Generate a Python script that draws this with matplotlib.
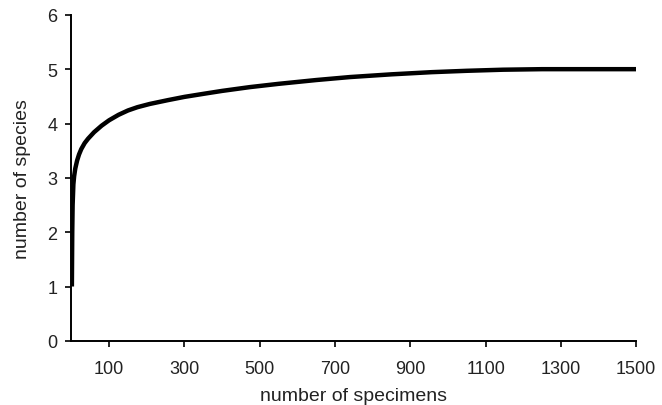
import matplotlib
matplotlib.use("Agg")
from matplotlib import pyplot as plt

plt.rcParams['font.family'] = ['Liberation Sans', 'DejaVu Sans']

# rarefaction curve
specimens = [1, 2, 3, 5, 7, 10, 15, 20, 26, 35, 44, 60, 80, 100, 125, 150,
             175, 208, 256, 300, 354, 400, 474, 550, 650, 740, 850, 957,
             1050, 1146, 1250, 1500]
species = [1.0, 2.0, 2.5, 2.88, 3.03, 3.17, 3.32, 3.43, 3.53, 3.64, 3.72,
           3.84, 3.96, 4.06, 4.16, 4.24, 4.3, 4.36, 4.43, 4.49, 4.55, 4.6,
           4.67, 4.73, 4.8, 4.855, 4.905, 4.945, 4.97, 4.99, 5.0, 5.0]
x_ticks = [100, 300, 500, 700, 900, 1100, 1300, 1500]
y_ticks = [0, 1, 2, 3, 4, 5, 6]

fig = plt.figure(figsize=(6.62, 4.06), dpi=100)
ax = fig.add_axes([0.108, 0.158, 0.853, 0.803])

ax.plot(specimens, species, color='black', linewidth=3.2,
        solid_capstyle='butt', solid_joinstyle='round')

ax.set_xlim(0, 1500)
ax.set_ylim(0, 6)
ax.set_xticks(x_ticks)
ax.set_yticks(y_ticks)
ax.tick_params(axis='both', direction='out', length=4, width=1.2,
               labelsize=13, colors='black', labelcolor='#222222')
ax.tick_params(axis='x', pad=10)
ax.tick_params(axis='y', pad=6)
for side in ['top', 'right']:
    ax.spines[side].set_visible(False)
for side in ['left', 'bottom']:
    ax.spines[side].set_linewidth(1.4)

ax.set_xlabel("number of specimens", fontsize=14, color='#222222', labelpad=7)
ax.set_ylabel("number of species", fontsize=14, color='#222222', labelpad=12)

fig.savefig("out.png", dpi=100)
